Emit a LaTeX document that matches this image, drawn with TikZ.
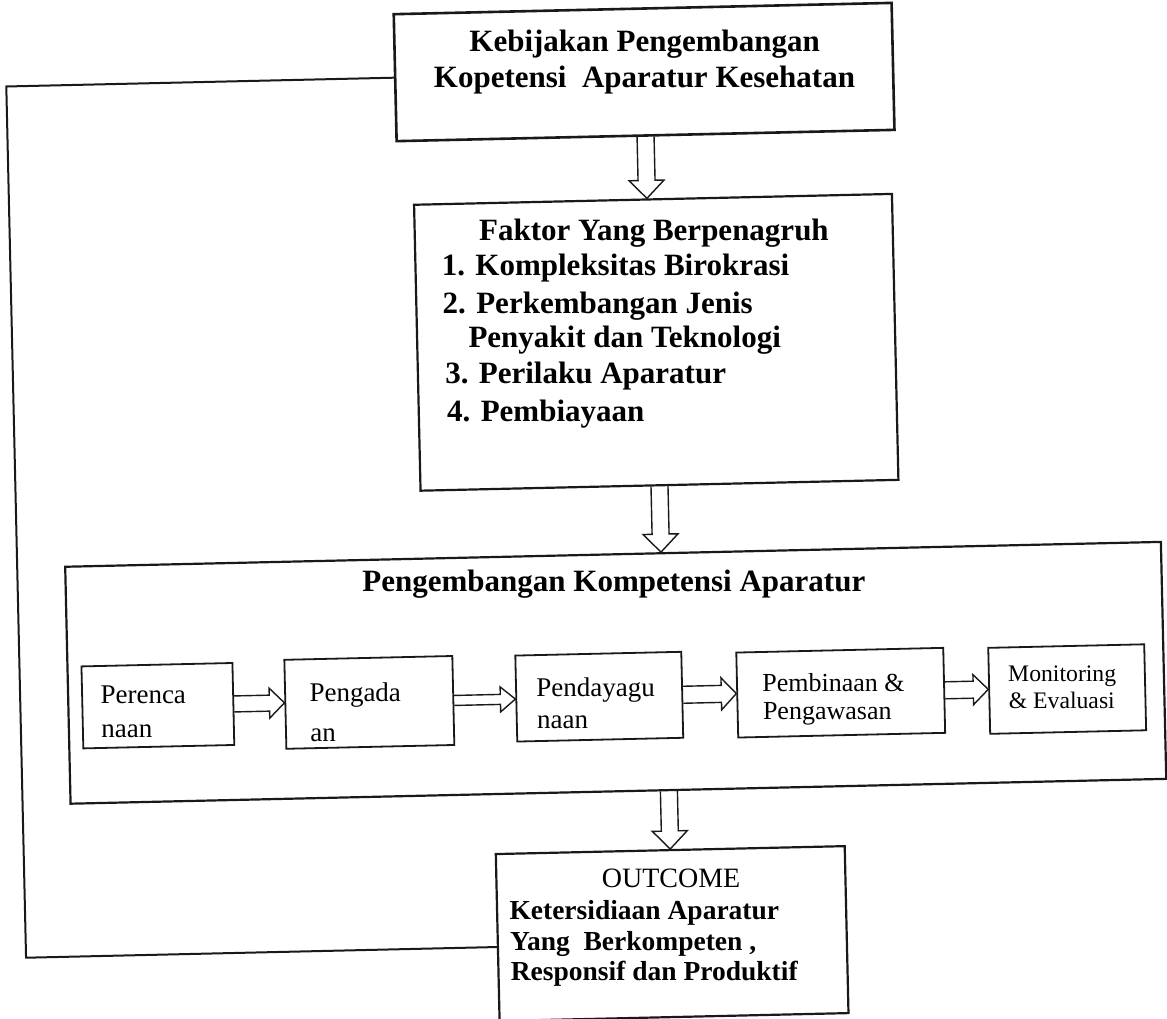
\documentclass[tikz,border=0pt]{standalone}
\usepackage{fontspec}
\setmainfont{Liberation Serif}
\usetikzlibrary{calc}
\tikzset{
  bigbox/.style={draw=black!90, line width=2.2pt, inner sep=0pt, transform shape},
  smallbox/.style={draw=black!90, line width=1.8pt, inner sep=0pt, transform shape},
  blk/.style={draw=black!90, line width=1.4pt, line join=miter},
  fbline/.style={draw=black!90, line width=2pt},
  bt/.style={font=\fontsize{31}{35}\selectfont\bfseries, inner sep=0pt},
  ot/.style={font=\fontsize{27.5}{30}\selectfont\bfseries, inner sep=0pt, anchor=base west},
  rt/.style={font=\fontsize{27}{30}\selectfont, inner sep=0pt, anchor=base west},
  rtb/.style={font=\fontsize{26}{30}\selectfont, inner sep=0pt, anchor=base west},
  rtc/.style={font=\fontsize{23.7}{27}\selectfont, inner sep=0pt, anchor=base west},
}
% vertical block arrow: #1 start (upper), #2 tip (lower)
\newcommand{\vblock}[2]{%
  \draw[blk] ($(#1)+(-8.5,0)-(0,0)$) -- ($(#2)+(-8.5,18)-(0,0)$) -- ($(#2)+(-17.5,18)-(0,0)$) -- (#2)
    -- ($(#2)+(17.5,18)-(0,0)$) -- ($(#2)+(8.5,18)-(0,0)$) -- ($(#1)+(8.5,0)-(0,0)$);}
% horizontal block arrow: #1 start, #2 tip, #3 shaft half, #4 head half
\newcommand{\hblock}[4]{%
  \draw[blk] ($(#1)+(0,#3)-(0,0)$) -- ($(#2)+(-15,#3)-(0,0)$) -- ($(#2)+(-15,#4)-(0,0)$) -- (#2)
    -- ($(#2)+(-15,-#4)-(0,0)$) -- ($(#2)+(-15,-#3)-(0,0)$) -- ($(#1)+(0,-#3)-(0,0)$);}
\begin{document}
\begin{tikzpicture}[x=1pt,y=1pt]
\path[fill=white, use as bounding box] (0,0) rectangle (1167,-1018);
\begin{scope}[rotate around={1.3:(583,-509)}]
  % boxes
  \node[bigbox, line width=2.6pt, minimum width=498pt, minimum height=127pt] (top) at (654,-73.5) {};
  \node[bigbox, minimum width=478pt, minimum height=286pt] (fak) at (660,-344) {};
  \node[bigbox, minimum width=1096pt, minimum height=237pt] (dev) at (612,-673.5) {};
  \node[bigbox, minimum width=349pt, minimum height=167pt] (out) at (662.5,-935.5) {};
  \node[smallbox, minimum width=151pt, minimum height=82pt] (b1) at (153.5,-696) {};
  \node[smallbox, minimum width=168pt, minimum height=89pt] (b2) at (365,-697.5) {};
  \node[smallbox, minimum width=166pt, minimum height=86pt] (b3) at (595,-697) {};
  \node[smallbox, minimum width=207pt, minimum height=85pt] (b4) at (836.5,-698.5) {};
  \node[smallbox, minimum width=156pt, minimum height=86pt] (b5) at (1063,-700) {};

  % texts
  \node[bt, anchor=base] (t1) at (655,-53.4) {Kebijakan Pengembangan};
  \node[bt, anchor=base] (t2) at (654,-89.4) {Kopetensi\ \ Aparatur Kesehatan};

  \node[bt, anchor=base] (f0) at (660,-242) {Faktor Yang Berpenagruh};
  \node[bt, anchor=base west] (f1) at (447,-272) {1. Kompleksitas Birokrasi};
  \node[bt, anchor=base west] (f2) at (447,-310) {2. Perkembangan Jenis};
  \node[bt, anchor=base west] (f2b) at (472,-345) {Penyakit dan Teknologi};
  \node[bt, anchor=base west] (f3) at (448,-380) {3. Perilaku Aparatur};
  \node[bt, anchor=base west] (f4) at (449,-418) {4. Pembiayaan};

  \node[bt, anchor=base] (dt) at (612,-592) {Pengembangan Kompetensi Aparatur};

  \node[rt] (s1a) at (96,-693) {Perenca};
  \node[rt] (s1b) at (96,-727) {naan};
  \node[rt] (s2a) at (305,-695) {Pengada};
  \node[rt] (s2b) at (305,-735) {an};
  \node[rt] (s3a) at (532,-695) {Pendayagu};
  \node[rt] (s3b) at (532,-727) {naan};
  \node[rtb] (s4a) at (758,-696) {Pembinaan \&};
  \node[rtb] (s4b) at (758,-724) {Pengawasan};
  \node[rtc] (s5a) at (1004,-691) {Monitoring};
  \node[rtc] (s5b) at (1004,-718) {\& Evaluasi};

  \node[font=\fontsize{28}{30}\selectfont, inner sep=0pt, anchor=base] (o0) at (662.5,-889) {OUTCOME};
  \node[ot] (o1) at (500,-918) {Ketersidiaan Aparatur};
  \node[ot] (o2) at (500,-949) {Yang\ \ Berkompeten ,};
  \node[ot] (o3) at (500,-979) {Responsif dan Produktif};

  % vertical block arrows
  \vblock{top.south}{top.south |- fak.north}
  \vblock{fak.south}{fak.south |- dev.north}
  \vblock{out.north |- dev.south}{out.north}

  % horizontal block arrows
  \hblock{b1.east}{b1.east -| b2.west}{8}{15}
  \hblock{b2.east}{b2.east -| b3.west}{5}{12.5}
  \hblock{b3.east}{b3.east -| b4.west}{8.5}{16}
  \hblock{b4.east}{b4.east -| b5.west}{8.5}{15}

  % feedback line
  \coordinate (fbA) at (16,-73.5);
  \coordinate (fbB) at (16,-945);
  \coordinate (fbC) at (488,-945);
  \draw[fbline] (top.west) -- (fbA) -- (fbB) -- (fbC);
\end{scope}
\end{tikzpicture}
\end{document}
